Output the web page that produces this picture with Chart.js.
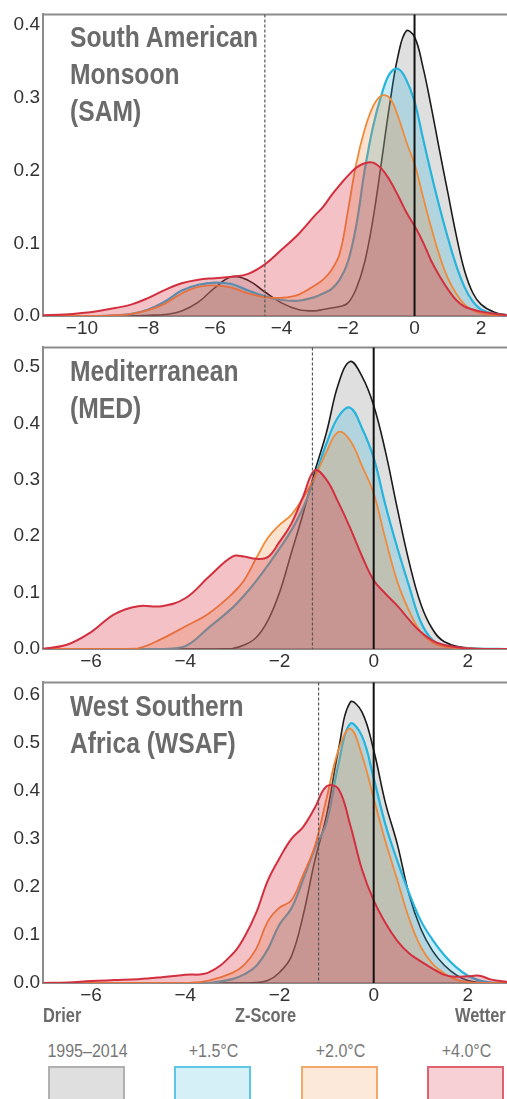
<!DOCTYPE html>
<html>
<head>
<meta charset="utf-8">
<title>Precipitation Z-score distributions</title>
<script src="https://cdn.jsdelivr.net/npm/chart.js@4.4.1/dist/chart.umd.min.js"></script>
<style>
  body { margin: 0; width: 507px; height: 1099px; overflow: hidden; background: #fff; position: relative; }
  canvas { position: absolute; left: 0; }
  .title { position: absolute; left: 70px; color: #6b6b6b; white-space: pre;
           transform: scaleX(0.85); transform-origin: 0 0;
           font: bold 29px/37px "Liberation Sans Narrow", "Liberation Sans", Arial, sans-serif; }
  .axisword { position: absolute; top: 1005px; color: #6b6b6b; white-space: nowrap;
              transform: scaleX(0.82); transform-origin: 0 0;
              font: bold 20px/20px "Liberation Sans", Arial, sans-serif; }
  .key { position: absolute; top: 1041px; width: 127px; margin-left: -63px; text-align: center; color: #777;
         transform: scaleX(0.89);
         font: 18px/20px "Liberation Sans", Arial, sans-serif; }
  .box { position: absolute; top: 1066px; width: 73px; height: 40px; border: 2px solid; }
</style>
</head>
<body>
<canvas id="sam" width="507" height="340" style="top:0px"></canvas>
<canvas id="med" width="507" height="340" style="top:333px"></canvas>
<canvas id="wsaf" width="507" height="340" style="top:668px"></canvas>

<div class="title" style="top:19px">South American
Monsoon
(SAM)</div>
<div class="title" style="top:353px">Mediterranean
(MED)</div>
<div class="title" style="top:688px">West Southern
Africa (WSAF)</div>

<div class="axisword" style="left:43px">Drier</div>
<div class="axisword" style="left:235px">Z-Score</div>
<div class="axisword" style="left:455px">Wetter</div>

<div id="legend"></div>

<script>
// series names (legend order)
var seriesNames = ["1995–2014", "+1.5°C", "+2.0°C", "+4.0°C"];

// South American Monsoon
var samZ = [-11.2, -10.5, -10, -9.5, -9, -8.5, -8, -7.5, -7, -6.5, -6, -5.5, -5, -4.5, -4, -3.5, -3, -2.75, -2.5, -2.25,
  -2, -1.75, -1.5, -1.25, -1, -0.75, -0.5, -0.25, 0, 0.25, 0.5, 0.75, 1, 1.25, 1.5, 1.75, 2, 2.4, 2.8];
var samHist = [0, 0, 0, 0, 0, 0, 0.001, 0.002, 0.007, 0.019, 0.039, 0.054, 0.049, 0.033, 0.018, 0.009, 0.007, 0.009, 0.011, 0.013,
  0.018, 0.038, 0.074, 0.133, 0.21, 0.29, 0.357, 0.392, 0.384, 0.343, 0.288, 0.228, 0.17, 0.112, 0.063, 0.032, 0.016, 0.005, 0.001];
var sam15 = [0, 0, 0, 0, 0.001, 0.003, 0.009, 0.02, 0.035, 0.043, 0.046, 0.044, 0.035, 0.027, 0.022, 0.021, 0.026, 0.031, 0.037, 0.05,
  0.075, 0.125, 0.2, 0.26, 0.303, 0.333, 0.34, 0.325, 0.295, 0.245, 0.196, 0.15, 0.108, 0.07, 0.04, 0.02, 0.009, 0.003, 0.001];
var sam20 = [0, 0, 0, 0, 0.001, 0.003, 0.008, 0.017, 0.031, 0.04, 0.042, 0.039, 0.031, 0.026, 0.025, 0.029, 0.042, 0.05, 0.063, 0.086,
  0.145, 0.21, 0.256, 0.288, 0.303, 0.3, 0.275, 0.24, 0.209, 0.165, 0.122, 0.083, 0.052, 0.031, 0.016, 0.008, 0.004, 0.001, 0];
var sam40 = [0.001, 0.002, 0.004, 0.007, 0.011, 0.016, 0.025, 0.036, 0.045, 0.05, 0.052, 0.054, 0.058, 0.071, 0.091, 0.112, 0.138, 0.15, 0.166, 0.18,
  0.193, 0.204, 0.21, 0.211, 0.203, 0.187, 0.166, 0.143, 0.124, 0.102, 0.076, 0.055, 0.037, 0.022, 0.013, 0.009, 0.006, 0.003, 0.001];

// Mediterranean
var medZ = [-7.05, -6.5, -6, -5.5, -5, -4.5, -4, -3.5, -3, -2.75, -2.5, -2.25, -2, -1.75, -1.5, -1.25, -1, -0.75, -0.5, -0.25,
  0, 0.25, 0.5, 0.75, 1, 1.25, 1.5, 2, 2.85];
var medHist = [0, 0, 0, 0, 0, 0, 0, 0, 0.001, 0.007, 0.02, 0.05, 0.1, 0.17, 0.24, 0.315, 0.385, 0.47, 0.51, 0.484,
  0.432, 0.35, 0.25, 0.155, 0.08, 0.035, 0.013, 0.002, 0];
var med15 = [0, 0, 0, 0, 0, 0, 0.005, 0.038, 0.073, 0.095, 0.12, 0.148, 0.178, 0.21, 0.25, 0.305, 0.365, 0.412, 0.428, 0.392,
  0.339, 0.255, 0.18, 0.112, 0.048, 0.016, 0.006, 0.001, 0];
var med20 = [0, 0, 0, 0, 0.001, 0.018, 0.04, 0.063, 0.098, 0.122, 0.16, 0.197, 0.22, 0.238, 0.268, 0.305, 0.35, 0.385, 0.37, 0.325,
  0.276, 0.195, 0.12, 0.068, 0.03, 0.011, 0.004, 0.001, 0];
var med40 = [0, 0.008, 0.03, 0.062, 0.076, 0.076, 0.09, 0.128, 0.164, 0.164, 0.16, 0.163, 0.19, 0.222, 0.27, 0.317, 0.3, 0.26, 0.215, 0.165,
  0.122, 0.098, 0.077, 0.052, 0.03, 0.015, 0.007, 0.001, 0];

// West Southern Africa
var wsafZ = [-7.05, -6.5, -6, -5.5, -5, -4.5, -4, -3.5, -3, -2.75, -2.5, -2.25, -2, -1.75, -1.5, -1.25, -1, -0.75, -0.5, -0.25,
  0, 0.25, 0.5, 0.75, 1, 1.25, 1.5, 1.75, 2, 2.25, 2.5, 2.85];
var wsafHist = [0, 0, 0, 0, 0, 0, 0, 0, 0, 0, 0.001, 0.005, 0.022, 0.055, 0.14, 0.255, 0.35, 0.485, 0.585, 0.565,
  0.485, 0.375, 0.29, 0.185, 0.113, 0.067, 0.037, 0.017, 0.005, 0.001, 0, 0];
var wsaf15 = [0, 0, 0, 0, 0, 0, 0, 0, 0.008, 0.018, 0.035, 0.07, 0.122, 0.155, 0.215, 0.28, 0.335, 0.455, 0.54, 0.515,
  0.427, 0.33, 0.255, 0.188, 0.13, 0.09, 0.058, 0.033, 0.015, 0.005, 0.001, 0];
var wsaf20 = [0, 0, 0, 0, 0, 0, 0, 0.005, 0.021, 0.038, 0.07, 0.128, 0.157, 0.172, 0.225, 0.285, 0.385, 0.485, 0.53, 0.475,
  0.385, 0.295, 0.215, 0.135, 0.075, 0.04, 0.02, 0.007, 0.002, 0, 0, 0];
var wsaf40 = [0, 0.001, 0.004, 0.006, 0.008, 0.012, 0.017, 0.022, 0.06, 0.095, 0.145, 0.213, 0.26, 0.3, 0.325, 0.365, 0.41, 0.405, 0.33, 0.237,
  0.172, 0.125, 0.088, 0.062, 0.045, 0.03, 0.017, 0.013, 0.014, 0.015, 0.007, 0.002];

// styles
var lineColors = ["#1b1b1b", "#27b4dc", "#ef8b3b", "#d3303f"];
var fillColors = ["rgba(128,128,128,0.25)", "rgba(40,180,220,0.25)", "rgba(240,140,60,0.25)", "rgba(215,50,65,0.3)"];
var lineWidths = [1.6, 2.2, 1.8, 2];
var tickFont = { family: "'Liberation Sans', Arial, sans-serif", size: 19 };

var panels = [
  { id: "sam", z: samZ, series: [samHist, sam15, sam20, sam40], xMin: -11.17, xMax: 2.78, yMax: 0.4148, dash: -4.5, padTop: 8, plotH: 308 },
  { id: "med", z: medZ, series: [medHist, med15, med20, med40], xMin: -7.02, xMax: 2.83, yMax: 0.535, dash: -1.3, padTop: 8, plotH: 308 },
  { id: "wsaf", z: wsafZ, series: [wsafHist, wsaf15, wsaf20, wsaf40], xMin: -7.02, xMax: 2.83, yMax: 0.6265, dash: -1.17, padTop: 8, plotH: 307 }
];

// minus sign instead of hyphen on the z axis
function fmtZ(v) {
  return v < 0 ? "\u2212" + Math.abs(v) : String(v);
}

// frame top, dashed threshold and the zero line
var refLines = {
  id: "refLines",
  afterDatasetsDraw: function (chart, args, opts) {
    var ctx = chart.ctx, a = chart.chartArea, xs = chart.scales.x;
    ctx.save();
    ctx.strokeStyle = "#8c8c8c";
    ctx.lineWidth = 2;
    ctx.beginPath();
    ctx.moveTo(a.left - 1, a.top);
    ctx.lineTo(a.right, a.top);
    ctx.stroke();

    var xd = xs.getPixelForValue(opts.dash);
    ctx.strokeStyle = "#555";
    ctx.lineWidth = 1.2;
    ctx.setLineDash([3, 2]);
    ctx.beginPath();
    ctx.moveTo(xd, a.top);
    ctx.lineTo(xd, a.bottom);
    ctx.stroke();

    var x0 = xs.getPixelForValue(0);
    ctx.setLineDash([]);
    ctx.strokeStyle = "#111";
    ctx.lineWidth = 2;
    ctx.beginPath();
    ctx.moveTo(x0, a.top);
    ctx.lineTo(x0, a.bottom);
    ctx.stroke();
    ctx.restore();
  }
};

function makeChart(p) {
  var datasets = seriesNames.map(function (name, i) {
    return {
      label: name,
      data: p.z.map(function (z, k) { return { x: z, y: p.series[i][k] }; }),
      borderColor: lineColors[i],
      backgroundColor: fillColors[i],
      borderWidth: lineWidths[i],
      fill: "origin",
      pointRadius: 0,
      tension: 0.4,
      order: 4 - i
    };
  });
  var axisH = 340 - p.padTop - p.plotH;

  new Chart(document.getElementById(p.id), {
    type: "line",
    data: { datasets: datasets },
    plugins: [refLines],
    options: {
      responsive: false,
      animation: false,
      layout: { padding: { top: p.padTop, left: 0, right: 0, bottom: 0 } },
      plugins: {
        legend: { display: false },
        tooltip: { enabled: false },
        refLines: { dash: p.dash }
      },
      scales: {
        x: {
          type: "linear",
          min: p.xMin,
          max: p.xMax,
          grid: { display: false, drawTicks: false },
          border: { display: true, color: "#8c8c8c", width: 2 },
          ticks: { stepSize: 2, includeBounds: false, autoSkip: false, maxRotation: 0, padding: 1,
                   color: "#333", font: tickFont, callback: fmtZ },
          afterFit: function (s) { s.height = axisH; }
        },
        y: {
          min: 0,
          max: p.yMax,
          grid: { display: false, drawTicks: false },
          border: { display: true, color: "#8c8c8c", width: 2 },
          ticks: { stepSize: 0.1, includeBounds: false, padding: 3, color: "#333", font: tickFont,
                   callback: function (v) { return v.toFixed(1); } },
          afterFit: function (s) { s.width = 43; }
        }
      }
    }
  });
}

panels.forEach(makeChart);

// legend: label above a colour swatch
var keyCenters = [87, 213, 340, 466];
var legend = document.getElementById("legend");
seriesNames.forEach(function (name, i) {
  var lab = document.createElement("div");
  lab.className = "key";
  lab.style.left = keyCenters[i] + "px";
  lab.textContent = name;
  legend.appendChild(lab);
  var box = document.createElement("div");
  box.className = "box";
  box.style.left = (keyCenters[i] - 39) + "px";
  box.style.background = fillColors[i];
  box.style.borderColor = i === 0 ? "#b0b0b0" : lineColors[i];
  box.style.opacity = i === 0 ? 1 : 0.75;
  legend.appendChild(box);
});
</script>
</body>
</html>
